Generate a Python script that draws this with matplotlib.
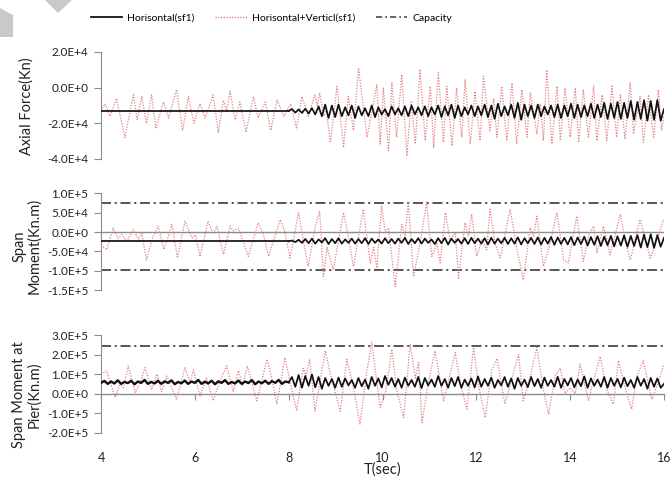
import matplotlib
matplotlib.use('Agg')
import matplotlib.pyplot as plt
import numpy as np
from matplotlib.lines import Line2D
from matplotlib.patches import Polygon

plt.rcParams['font.family'] = ['Lato', 'DejaVu Sans']

# ---------------- data ----------------
# Panel 1: Axial force (units of 1E4 kN)
axial_hv_t = [4.0, 4.085, 4.19, 4.33, 4.51, 4.69, 4.77, 4.87, 4.97, 5.08,
              5.17, 5.33, 5.44, 5.61, 5.74, 5.86, 5.98, 6.11, 6.22, 6.39,
              6.50, 6.61, 6.68, 6.75, 6.86, 6.96, 7.09, 7.25, 7.35, 7.50,
              7.62, 7.75, 7.90, 8.04, 8.17, 8.28, 8.42, 8.56, 8.61, 8.66,
              8.75, 8.80, 8.89,
              9.03, 9.17, 9.27, 9.38, 9.49, 9.67, 9.88, 9.95, 10.02, 10.13,
              10.20, 10.30, 10.41, 10.52, 10.61, 10.70, 10.80, 10.91, 11.02, 11.09,
              11.19, 11.30, 11.37, 11.48, 11.58, 11.69, 11.76, 11.87, 11.97, 12.08,
              12.15, 12.29, 12.37, 12.44, 12.54, 12.65, 12.76, 12.86, 12.97, 13.08,
              13.15, 13.29, 13.36, 13.43, 13.50, 13.61, 13.72, 13.79, 13.89, 14.00,
              14.11, 14.18, 14.28, 14.39, 14.50, 14.57, 14.68, 14.78, 14.89, 14.99,
              15.07, 15.17, 15.28, 15.35, 15.49, 15.56, 15.67, 15.78, 15.88, 15.95, 16.0]
axial_hv_v = [-1.3, -0.9, -1.6, -0.6, -2.8, -0.4, -1.8, -0.5, -2.0, -0.4,
              -2.3, -0.8, -1.7, -0.1, -2.4, -0.5, -2.0, -0.9, -1.7, -0.4,
              -2.5, -0.7, -1.3, -0.2, -1.8, -0.8, -2.5, -0.5, -1.7, -0.8,
              -2.4, -0.7, -1.6, -0.9, -2.3, -0.5, -1.6, -0.4, -1.0, -0.3,
              -1.6, -1.2, -3.1,
              0.07, -3.35, -0.49, -2.4, 1.1, -2.78, 0.17, -3.16, -0.02, -3.54,
              0.27, -2.78, 0.74, -3.83, -0.8, -3.16, 1.03, -2.97, 0.08, -3.35,
              0.84, -3.07, 0.08, -3.26, -0.02, -2.78, 0.46, -3.16, -0.21, -2.97,
              0.65, -2.4, -0.6, -2.78, 0.08, -2.97, 0.27, -3.16, -0.11, -2.78,
              -0.3, -2.59, -0.9, -2.97, 1.0, -3.16, 0.08, -2.97, -0.02, -2.78,
              -0.02, -3.07, -0.11, -2.78, 0.08, -2.97, -0.4, -2.97, 0.08, -2.78,
              -0.4, -2.88, 0.27, -2.59, -0.49, -3.07, -0.4, -2.78, -0.11, -2.4, -1.6]
axial_h_flat = -1.3
axial_h_v = [-1.3, -1.2, -1.4, -1.22, -1.42, -1.18, -1.45, -1.15, -1.5, -1.05,
             -1.6, -0.95, -1.7, -1.0, -1.65, -0.95, -1.6, -1.1, -1.55, -1.0,
             -1.7, -1.05, -1.55, -1.15, -1.6, -1.0, -1.65, -1.1, -1.5, -1.2,
             -1.6, -1.05, -1.5, -1.15, -1.55, -1.05, -1.6, -1.0, -1.5, -1.1,
             -1.55, -1.05, -1.6, -1.1, -1.5, -1.0, -1.65, -1.05, -1.55, -0.95,
             -1.7, -1.0, -1.6, -1.1, -1.5, -1.0, -1.6, -1.05, -1.55, -0.95,
             -1.65, -1.0, -1.75, -0.9, -1.6, -1.05, -1.55, -0.95, -1.7, -0.85,
             -1.8, -0.95, -1.6, -1.0, -1.7, -0.95, -1.6, -1.05, -1.5, -1.0,
             -1.65, -0.95, -1.7, -1.0, -1.6, -0.9, -1.7, -0.95, -1.65, -1.0,
             -1.6, -0.9, -1.7, -0.95, -1.65, -0.85, -1.75, -0.9, -1.7, -0.8,
             -1.75, -0.85, -1.7, -0.75, -1.8, -0.8, -1.75, -0.7, -1.85, -0.75,
             -1.8, -0.7, -1.85, -1.2]

# Panel 2: Span moment (units of 1E4 kN.m)
span_hv_t = [4.0, 4.12, 4.26, 4.36, 4.44, 4.55, 4.69, 4.80, 4.87, 4.97,
             5.10, 5.22, 5.34, 5.44, 5.51, 5.63, 5.79, 5.94, 6.01, 6.11,
             6.28, 6.39, 6.47, 6.61, 6.75, 6.82, 6.93, 7.14, 7.35, 7.46,
             7.57, 7.82, 7.92, 8.03, 8.21, 8.31, 8.42, 8.56, 8.66, 8.74, 8.82,
             8.95, 9.17, 9.27, 9.38, 9.59, 9.74, 9.81, 9.88, 9.98, 10.06,
             10.13, 10.27, 10.41, 10.48, 10.55, 10.66, 10.80, 10.94, 11.05, 11.16,
             11.23, 11.34, 11.44, 11.55, 11.62, 11.76, 11.83, 11.90, 12.01, 12.12,
             12.22, 12.29, 12.40, 12.51, 12.72, 12.86, 13.00, 13.15, 13.22, 13.29,
             13.43, 13.57, 13.72, 13.86, 13.96, 14.14, 14.28, 14.39, 14.50, 14.57,
             14.71, 14.85, 15.07, 15.17, 15.28, 15.49, 15.60, 15.71, 15.88, 15.99]
span_hv_v = [-3.4, -4.6, 1.1, -1.6, -0.6, -2.4, 0.6, -1.8, -0.4, -7.2,
             -1.5, 1.5, -4.5, -1.0, 2.0, -6.7, 2.8, -1.5, -0.7, -6.3,
             2.8, -0.5, 1.5, -5.8, 1.5, 0.3, 1.0, -6.3, 2.4, -0.5,
             -6.3, 3.2, 0.0, -6.7, 5.0, -2.0, -8.9, 1.0, 5.4, -11.5, -4.0,
             -9.8, 5.0, -1.0, -8.9, 5.9, -8.0, -4.0, -9.3, 6.8, 0.0,
             1.0, -14.1, 1.95, -1.0, 7.7, -11.5, -3.0, 7.7, -6.3, -3.0,
             -8.0, 5.0, -2.0, -0.2, -11.9, 2.4, -1.0, 4.6, -6.3, -2.0,
             -4.6, 5.9, -3.0, -6.7, 5.9, -4.0, -12.4, 1.09, -1.0, 4.1,
             -8.9, -3.0, 5.0, -7.2, -8.0, 4.1, -7.6, -1.0, 1.5, -5.4,
             1.5, -5.9, 4.6, -2.0, -7.2, 3.3, -2.0, -6.7, -1.0, 3.3]
span_h_flat = -2.4
span_h_v = [-2.4, -2.2, -2.6, -2.0, -2.8, -1.8, -2.9, -1.7, -3.0, -1.9,
            -2.7, -1.6, -3.1, -1.8, -2.9, -1.6, -3.0, -1.9, -2.8, -1.7,
            -3.0, -1.8, -2.9, -1.6, -3.1, -1.7, -2.8, -1.9, -3.0, -1.6,
            -2.9, -1.8, -3.0, -1.7, -2.8, -1.5, -3.1, -1.8, -2.9, -1.6,
            -3.0, -1.7, -2.8, -1.9, -3.1, -1.6, -2.9, -1.5, -3.2, -1.7,
            -2.8, -1.8, -3.0, -1.6, -3.1, -1.5, -2.9, -1.7, -3.0, -1.6,
            -3.2, -1.5, -3.0, -1.7, -2.9, -1.5, -3.1, -1.6, -3.0, -1.4,
            -3.2, -1.6, -2.9, -1.5, -3.1, -1.4, -3.2, -1.5, -3.0, -1.3,
            -3.3, -1.4, -3.1, -1.5, -3.2, -1.3, -3.4, -1.4, -3.1, -1.2,
            -3.5, -1.3, -3.3, -1.1, -3.6, -1.2, -3.4, -1.0, -3.7, -1.1,
            -3.5, -0.9, -3.8, -1.0, -3.6, -0.8, -4.0, -0.7, -3.9, -0.6,
            -4.1, -0.8, -3.8, -1.5]
span_capacity = [7.6, -9.8]

# Panel 3: Span moment at pier (units of 1E5 kN.m)
pier_hv_t = [4.0, 4.12, 4.30, 4.40, 4.48, 4.58, 4.73, 4.84, 4.94, 5.08,
             5.19, 5.29, 5.40, 5.61, 5.79, 5.90, 5.97, 6.11, 6.25, 6.39,
             6.54, 6.68, 6.82, 6.93, 7.02, 7.12, 7.32, 7.54, 7.64, 7.75,
             7.92, 8.03, 8.17, 8.31, 8.37, 8.45, 8.56, 8.66, 8.78, 8.89,
             9.10, 9.24, 9.38, 9.52, 9.67, 9.77, 9.95, 10.06, 10.20, 10.30,
             10.45, 10.59, 10.70, 10.77, 10.84, 10.98, 11.12, 11.30, 11.41, 11.55,
             11.66, 11.80, 11.94, 12.05, 12.19, 12.33, 12.44, 12.61, 12.76, 12.90,
             13.00, 13.15, 13.29, 13.43, 13.54, 13.68, 13.79, 13.89, 14.00, 14.11,
             14.21, 14.39, 14.50, 14.64, 14.78, 14.92, 15.03, 15.17, 15.31, 15.42,
             15.56, 15.74, 15.88, 16.0]
pier_hv_v = [1.0, 1.17, -0.2, 0.45, 0.3, 1.42, 0.05, 0.6, 1.33, 0.2,
             1.0, 0.1, 0.9, -0.3, 1.33, 0.6, 1.2, -0.12, 0.8, -0.37,
             0.7, 1.42, 0.1, 1.17, 0.4, 1.42, -0.37, 1.76, 0.8, -0.54,
             1.85, 0.6, -0.88, 1.3, 0.9, 1.76, -0.88, 0.5, 2.2, 1.0,
             -0.9, 1.76, 0.3, -1.56, 1.17, 2.62, -0.7, 0.0, 2.27, 0.2,
             -1.23, 2.53, 0.8, 1.6, -1.48, 0.6, 2.19, -0.37, 0.7, 2.10,
             0.5, -0.8, 2.36, 0.4, -1.23, 1.2, 1.8, -0.54, 0.8, 2.0,
             -0.37, 0.9, 2.36, 0.2, -1.06, 0.9, 1.3, 0.0, 0.3, 0.0,
             1.5, -0.37, 0.7, 1.9, 0.2, -0.54, 1.68, 0.3, -0.8, 0.9,
             1.68, -0.29, 0.6, 1.5]
pier_h_pre = [0.55, 0.65, 0.5, 0.62, 0.52, 0.68, 0.5, 0.6, 0.54, 0.66,
              0.48, 0.62, 0.55, 0.7, 0.5, 0.6, 0.52, 0.66, 0.5, 0.63,
              0.55, 0.68, 0.48, 0.6, 0.53, 0.67, 0.5, 0.62, 0.55, 0.7,
              0.5, 0.61, 0.52, 0.66, 0.48, 0.63, 0.55, 0.69, 0.5, 0.6,
              0.52, 0.67, 0.5, 0.62, 0.54, 0.7, 0.48, 0.62, 0.53, 0.66,
              0.5, 0.64, 0.55, 0.7, 0.5, 0.62, 0.58]
pier_h_post = [0.58, 0.85, 0.35, 0.95, 0.3, 0.9, 0.4, 0.98, 0.32, 0.85,
               0.25, 0.8, 0.4, 0.75, 0.3, 0.82, 0.35, 0.78, 0.42, 0.7,
               0.3, 0.8, 0.38, 0.72, 0.25, 0.85, 0.4, 0.78, 0.32, 0.9,
               0.45, 0.8, 0.35, 0.75, 0.3, 0.82, 0.4, 0.7, 0.35, 0.85,
               0.28, 0.8, 0.42, 0.72, 0.35, 0.9, 0.4, 0.75, 0.3, 0.8,
               0.38, 0.85, 0.3, 0.72, 0.4, 0.78, 0.32, 0.88, 0.35, 0.75,
               0.4, 0.82, 0.3, 0.7, 0.42, 0.85, 0.35, 0.78, 0.25, 0.8,
               0.4, 0.72, 0.33, 0.85, 0.38, 0.75, 0.3, 0.82, 0.4, 0.7,
               0.35, 0.86, 0.3, 0.75, 0.42, 0.8, 0.32, 0.72, 0.38, 0.88,
               0.3, 0.78, 0.4, 0.72, 0.35, 0.85, 0.3, 0.8, 0.4, 0.75,
               0.32, 0.82, 0.38, 0.7, 0.3, 0.85, 0.4, 0.75, 0.25, 0.8,
               0.35, 0.78, 0.3, 0.5]
pier_capacity = [2.45]

x_ticks = [4, 6, 8, 10, 12, 14, 16]
t_start, t_switch, t_end = 4.0, 8.0, 16.0

# ---------------- styling ----------------
PINK = '#e27474'
BLACK = '#111111'
GREY = '#8c8c8c'
CAP = '#3a3a3a'
pink_kw = dict(color=PINK, lw=0.9, linestyle=(0, (1, 1.2)), alpha=0.9, zorder=2)
black_kw = dict(color=BLACK, lw=1.25, zorder=3)
cap_kw = dict(color=CAP, lw=1.2, linestyle=(0, (6, 2.2, 1.3, 2.2)), zorder=1)


def sci(v, pos=None):
    if abs(v) < 1e-9:
        return '0.0E+0'
    e = int(np.floor(np.log10(abs(v)) + 1e-9))
    m = v / 10 ** e
    return f"{m:.1f}E+{e}"


fig = plt.figure(figsize=(6.7, 4.78), dpi=100)
L, W = 101 / 670, 563 / 670


def ax_at(top_px, bot_px):
    return fig.add_axes([L, 1 - bot_px / 478, W, (bot_px - top_px) / 478])


ax1 = ax_at(52, 159)
ax2 = ax_at(193.3, 290.1)
ax3 = ax_at(335, 432.7)

for ax in (ax1, ax2, ax3):
    for s in ('top', 'right', 'bottom'):
        ax.spines[s].set_visible(False)
    ax.spines['left'].set_color(GREY)
    ax.spines['left'].set_linewidth(0.8)
    ax.tick_params(axis='y', length=5, width=0.8, color=GREY, labelsize=8.5,
                   pad=4, labelcolor='#222222')
    ax.yaxis.set_major_formatter(plt.FuncFormatter(sci))
    ax.set_xlim(4, 16)
    ax.set_facecolor('none')

ax1.set_xticks([])
ax2.set_xticks([])

# Panel 1
s1 = 1e4
ax1.plot(axial_hv_t, np.array(axial_hv_v) * s1, **pink_kw)
ax1.plot([t_start, t_switch], [axial_h_flat * s1] * 2, **black_kw)
ax1.plot(np.linspace(t_switch, t_end, len(axial_h_v)), np.array(axial_h_v) * s1, **black_kw)
ax1.set_ylim(-4e4, 2e4)
ax1.set_yticks([-4e4, -2e4, 0, 2e4])

# Panel 2
s2 = 1e4
ax2.axhline(0, color=GREY, lw=1.0, zorder=1)
for c in span_capacity:
    ax2.axhline(c * s2, **cap_kw)
ax2.plot(span_hv_t, np.array(span_hv_v) * s2, **pink_kw)
ax2.plot([t_start, t_switch], [span_h_flat * s2] * 2, **black_kw)
ax2.plot(np.linspace(t_switch, t_end, len(span_h_v)), np.array(span_h_v) * s2, **black_kw)
ax2.set_ylim(-1.5e5, 1e5)
ax2.set_yticks([-1.5e5, -1e5, -5e4, 0, 5e4, 1e5])

# Panel 3
s3 = 1e5
for c in pier_capacity:
    ax3.axhline(c * s3, **cap_kw)
ax3.plot(pier_hv_t, np.array(pier_hv_v) * s3, **pink_kw)
ax3.plot(np.linspace(t_start, t_switch, len(pier_h_pre)), np.array(pier_h_pre) * s3,
         **dict(black_kw, lw=1.7))
ax3.plot(np.linspace(t_switch, t_end, len(pier_h_post)), np.array(pier_h_post) * s3, **black_kw)
ax3.set_ylim(-2e5, 3e5)
ax3.set_yticks([-2e5, -1e5, 0, 1e5, 2e5, 3e5])
ax3.spines['bottom'].set_visible(True)
ax3.spines['bottom'].set_position(('data', 0))
ax3.spines['bottom'].set_color(GREY)
ax3.spines['bottom'].set_linewidth(1.0)
ax3.set_xticks(x_ticks)
ax3.tick_params(axis='x', length=4, width=0.8, color=GREY, labelbottom=False)
sec = ax3.secondary_xaxis(0.0)
sec.set_xticks(x_ticks)
sec.tick_params(axis='x', length=0, pad=14, labelsize=9, labelcolor='#222222')
sec.spines['bottom'].set_visible(False)
sec.set_xlabel('T(sec)', fontsize=10.5, labelpad=-1, color='#222222')

# y labels
fig.text(27 / 670, 1 - 106 / 478, 'Axial Force(Kn)', rotation=90, ha='center', va='center',
         fontsize=10.5, color='#222222')
fig.text(27 / 670, 1 - 246 / 478, 'Span\nMoment(Kn.m)', rotation=90, ha='center', va='center',
         fontsize=10.5, color='#222222', multialignment='center', linespacing=1.1)
fig.text(27 / 670, 1 - 395 / 478, 'Span Moment at\nPier(Kn.m)', rotation=90, ha='center',
         va='center', fontsize=10.5, color='#222222', multialignment='center', linespacing=1.1)

# legend
handles = [Line2D([], [], color=BLACK, lw=1.3),
           Line2D([], [], color=PINK, lw=0.9, linestyle=(0, (1, 1.2))),
           Line2D([], [], color=CAP, lw=1.1, linestyle=(0, (4, 2, 1.2, 2)))]
fig.legend(handles, ['Horisontal(sf1)', 'Horisontal+Verticl(sf1)', 'Capacity'],
           loc='center', bbox_to_anchor=(0.405, 0.962), ncol=3, frameon=False,
           fontsize=7.5, handlelength=3.0, handletextpad=0.5, columnspacing=2.0)

# watermark shapes (top-left corner)
def px(x, y):
    return (x / 670, 1 - y / 478)

fig.patches.append(Polygon([px(0, 8), px(13, 15), px(13, 37), px(0, 37)], closed=True,
                           transform=fig.transFigure, facecolor='#c9c9c9', edgecolor='none'))
fig.patches.append(Polygon([px(45, 0), px(72, 0), px(58, 13)], closed=True,
                           transform=fig.transFigure, facecolor='#c9c9c9', edgecolor='none'))

fig.savefig('out.png', dpi=100)
